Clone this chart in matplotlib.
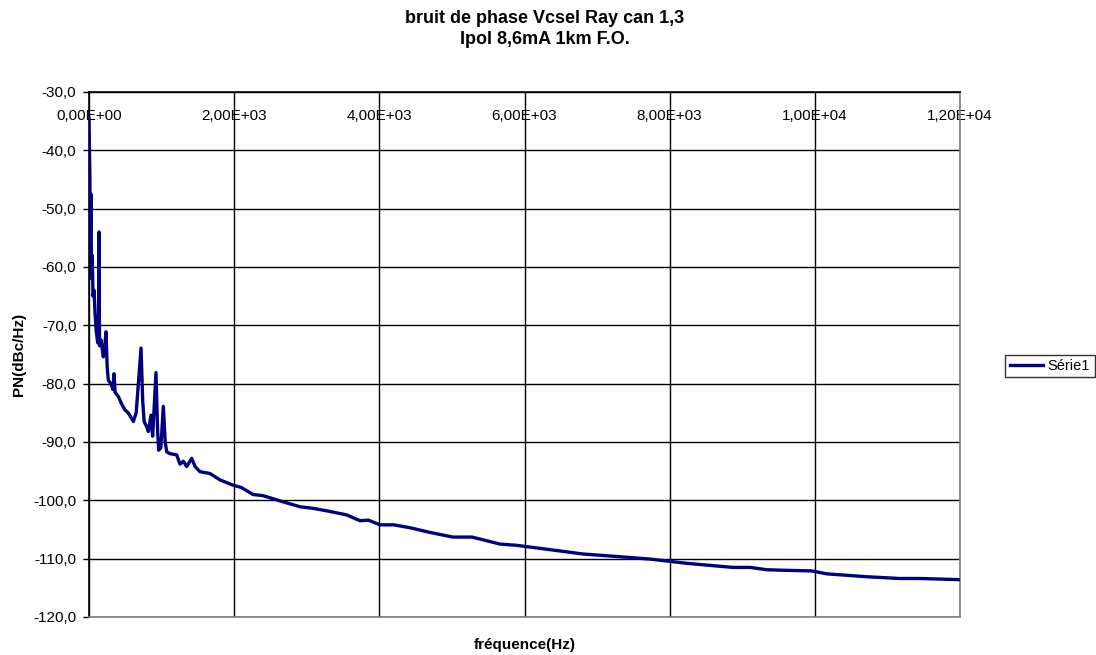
import matplotlib.pyplot as plt
from matplotlib.ticker import FuncFormatter

plt.rcParams['font.family'] = ['Liberation Sans', 'DejaVu Sans']

# bruit de phase
freq = [0, 12, 18, 26, 35, 45, 55, 70, 83, 100, 120, 132, 138, 145, 165,
        197, 215, 234, 250, 266, 300, 330, 344, 360, 404, 450, 496, 540,
        570, 611, 650, 680, 717, 740, 760, 795, 818, 854, 877, 923, 945,
        960, 990, 1024, 1050, 1071, 1116, 1208, 1254, 1300, 1346, 1415,
        1461, 1530, 1667, 1805, 1984, 2100, 2260, 2400, 2632, 2907, 3100,
        3275, 3551, 3734, 3850, 4010, 4200, 4423, 4698, 5015, 5277, 5663,
        5883, 6255, 6806, 7454, 7753, 8235, 8873, 9112, 9337, 9613, 9957,
        10164, 10715, 11174, 11449, 12000]
pn = [-34.5, -44.6, -56.0, -47.5, -62.0, -58.0, -65.0, -64.0, -67.9, -71.0,
      -73.0, -68.0, -54.0, -73.5, -72.5, -75.4, -74.0, -71.1, -77.0, -79.4,
      -80.0, -81.0, -78.3, -81.5, -82.2, -83.5, -84.5, -85.0, -85.6, -86.5,
      -85.0, -80.0, -73.9, -83.0, -86.5, -87.4, -88.2, -85.4, -89.0, -78.1,
      -88.0, -91.4, -91.0, -83.9, -90.0, -91.7, -92.0, -92.2, -93.8, -93.3,
      -94.2, -92.8, -94.2, -95.1, -95.4, -96.5, -97.4, -97.8, -99.0, -99.2,
      -100.1, -101.1, -101.4, -101.8, -102.5, -103.5, -103.4, -104.2, -104.2,
      -104.7, -105.5, -106.3, -106.3, -107.5, -107.7, -108.3, -109.2, -109.8,
      -110.1, -110.8, -111.5, -111.5, -111.9, -112.0, -112.1, -112.6, -113.1,
      -113.4, -113.4, -113.6]

x_ticks = [0, 2000, 4000, 6000, 8000, 10000, 12000]
y_ticks = [-120, -110, -100, -90, -80, -70, -60, -50, -40, -30]

fig = plt.figure(figsize=(10.96, 6.55), dpi=100)
ax = fig.add_axes([89 / 1096, 1 - 617 / 655, 871 / 1096, 525 / 655])

ax.plot(freq, pn, color='#000080', linewidth=2.4, label='Série1', zorder=3)

ax.set_xlim(0, 12000)
ax.set_ylim(-120, -30)
ax.set_xticks(x_ticks)
ax.set_yticks(y_ticks)

# Excel style labels, comma decimal
ax.xaxis.set_major_formatter(FuncFormatter(
    lambda v, p: ('%.2E' % v).replace('.', ',')))
ax.yaxis.set_major_formatter(FuncFormatter(
    lambda v, p: ('%.1f' % v).replace('.', ',')))

ax.tick_params(axis='x', top=True, labeltop=True, bottom=False,
               labelbottom=False, length=0, pad=-22.5, labelsize=11)
ax.tick_params(axis='y', length=4, width=1, labelsize=11, pad=5)

ax.grid(True, color='black', linewidth=1.0)
for s in ax.spines.values():
    s.set_color('#808080')
    s.set_linewidth(1.2)
ax.spines['top'].set_color('black')
ax.spines['left'].set_color('black')

ax.set_xlabel('fréquence(Hz)', fontsize=11, fontweight='bold', labelpad=15)
ax.set_ylabel('PN(dBc/Hz)', fontsize=11, fontweight='bold', labelpad=5)

fig.text(0.497, 0.985, 'bruit de phase Vcsel Ray can 1,3\nIpol 8,6mA 1km F.O.',
         ha='center', va='top', fontsize=13, fontweight='bold',
         linespacing=1.3)

leg = fig.legend(loc='center', bbox_to_anchor=(1050 / 1096, 1 - 366 / 655),
                 fontsize=10.5, frameon=True, fancybox=False, borderpad=0.3,
                 handlelength=2.3, handletextpad=0.3, borderaxespad=0)
leg.get_frame().set_edgecolor('black')
leg.get_frame().set_linewidth(1.0)

fig.savefig('out.png', dpi=100)
